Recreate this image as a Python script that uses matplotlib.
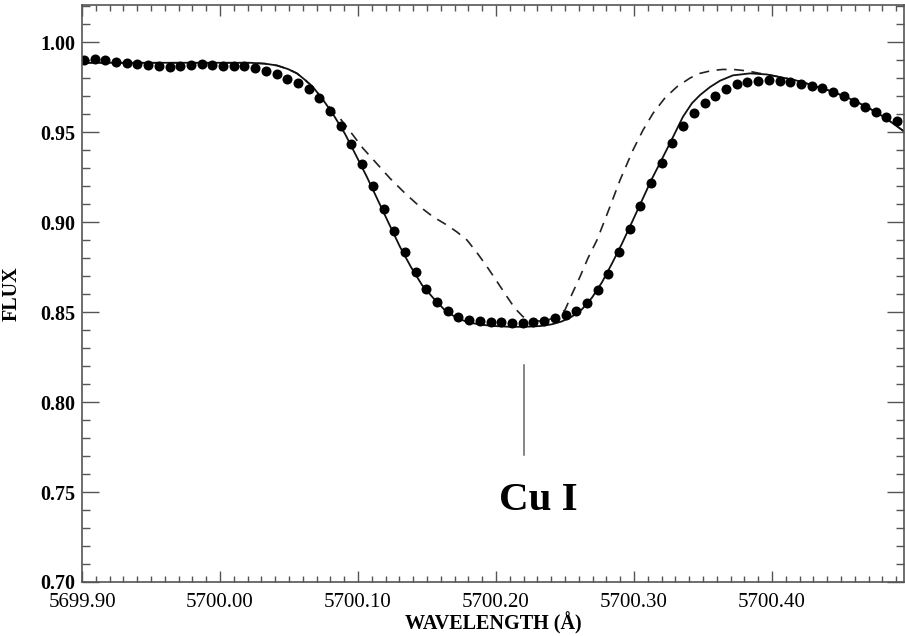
import matplotlib
matplotlib.use("Agg")
import matplotlib.pyplot as plt
from matplotlib.ticker import MultipleLocator, FormatStrFormatter

# Observed spectrum (dots)
obs_wave = [
    5699.9014, 5699.9092, 5699.9169, 5699.9247, 5699.9324, 5699.9402, 5699.9480,
    5699.9557, 5699.9635, 5699.9712, 5699.9790, 5699.9867, 5699.9945, 5700.0022,
    5700.0100, 5700.0177, 5700.0255, 5700.0333, 5700.0410, 5700.0488, 5700.0565,
    5700.0643, 5700.0720, 5700.0798, 5700.0875, 5700.0953, 5700.1030, 5700.1108,
    5700.1186, 5700.1263, 5700.1341, 5700.1418, 5700.1496, 5700.1573, 5700.1651,
    5700.1728, 5700.1806, 5700.1883, 5700.1961, 5700.2039, 5700.2116, 5700.2194,
    5700.2271, 5700.2349, 5700.2426, 5700.2504, 5700.2581, 5700.2659, 5700.2736,
    5700.2814, 5700.2892, 5700.2969, 5700.3047, 5700.3124, 5700.3202, 5700.3279,
    5700.3357, 5700.3434, 5700.3512, 5700.3589, 5700.3667, 5700.3745, 5700.3822,
    5700.3900, 5700.3977, 5700.4055, 5700.4132, 5700.4210, 5700.4287, 5700.4365,
    5700.4442, 5700.4520, 5700.4598, 5700.4675, 5700.4753, 5700.4830, 5700.4908,
]
obs_flux = [
    0.9900, 0.9904, 0.9900, 0.9890, 0.9885, 0.9878, 0.9872,
    0.9867, 0.9860, 0.9867, 0.9872, 0.9878, 0.9872, 0.9867,
    0.9867, 0.9867, 0.9854, 0.9839, 0.9820, 0.9794, 0.9770,
    0.9737, 0.9687, 0.9615, 0.9533, 0.9433, 0.9322, 0.9200,
    0.9074, 0.8950, 0.8832, 0.8722, 0.8630, 0.8556, 0.8504,
    0.8474, 0.8456, 0.8448, 0.8445, 0.8442, 0.8440, 0.8440,
    0.8443, 0.8448, 0.8465, 0.8483, 0.8506, 0.8550, 0.8620,
    0.8710, 0.8832, 0.8963, 0.9090, 0.9215, 0.9330, 0.9440,
    0.9533, 0.9604, 0.9660, 0.9700, 0.9739, 0.9767, 0.9780,
    0.9785, 0.9789, 0.9785, 0.9778, 0.9768, 0.9756, 0.9744,
    0.9724, 0.9700, 0.9668, 0.9637, 0.9613, 0.9585, 0.9563,
]

# Synthetic profile, best fit (solid)
fit_wave = [
    5699.9000, 5700.0217, 5700.0326, 5700.0413, 5700.0493, 5700.0558, 5700.0616,
    5700.0674, 5700.0746, 5700.0819, 5700.0906, 5700.0986, 5700.1065, 5700.1145,
    5700.1225, 5700.1304, 5700.1384, 5700.1464, 5700.1543, 5700.1630, 5700.1710,
    5700.1790, 5700.1884, 5700.1993, 5700.2101, 5700.2210, 5700.2319, 5700.2406,
    5700.2478, 5700.2551, 5700.2623, 5700.2696, 5700.2768, 5700.2841, 5700.2913,
    5700.2986, 5700.3058, 5700.3130, 5700.3203, 5700.3275, 5700.3355, 5700.3420,
    5700.3478, 5700.3551, 5700.3623, 5700.3717, 5700.3841, 5700.3964, 5700.4094,
    5700.4203, 5700.4326, 5700.4442, 5700.4565, 5700.4688, 5700.4819, 5700.4964,
]
fit_flux = [
    0.9885, 0.9885, 0.9880, 0.9870, 0.9850, 0.9826, 0.9790,
    0.9750, 0.9680, 0.9600, 0.9490, 0.9370, 0.9250, 0.9120,
    0.8990, 0.8863, 0.8750, 0.8650, 0.8580, 0.8510, 0.8470,
    0.8445, 0.8430, 0.8422, 0.8418, 0.8418, 0.8422, 0.8432,
    0.8448, 0.8475, 0.8515, 0.8580, 0.8665, 0.8770, 0.8880,
    0.9000, 0.9120, 0.9240, 0.9350, 0.9460, 0.9585, 0.9660,
    0.9705, 0.9750, 0.9785, 0.9815, 0.9826, 0.9820, 0.9800,
    0.9782, 0.9752, 0.9724, 0.9685, 0.9640, 0.9580, 0.9500,
]

# Synthetic profile, alternative model (dashed)
alt_wave = [
    5699.9000, 5700.0217, 5700.0326, 5700.0413, 5700.0493, 5700.0558, 5700.0616,
    5700.0674, 5700.0746, 5700.0819, 5700.0870, 5700.0957, 5700.1036, 5700.1130,
    5700.1232, 5700.1341, 5700.1449, 5700.1543, 5700.1645, 5700.1717, 5700.1790,
    5700.1862, 5700.1935, 5700.2007, 5700.2080, 5700.2138, 5700.2196, 5700.2246,
    5700.2319, 5700.2377, 5700.2435, 5700.2500, 5700.2551, 5700.2609, 5700.2667,
    5700.2732, 5700.2783, 5700.2826, 5700.2899, 5700.2993, 5700.3065, 5700.3138,
    5700.3225, 5700.3312, 5700.3406, 5700.3478, 5700.3565, 5700.3645, 5700.3732,
    5700.3819, 5700.3913, 5700.3964, 5700.4094, 5700.4203, 5700.4326, 5700.4442,
    5700.4565, 5700.4688, 5700.4819, 5700.4964,
]
alt_flux = [
    0.9885, 0.9885, 0.9880, 0.9870, 0.9850, 0.9826, 0.9790,
    0.9750, 0.9680, 0.9615, 0.9576, 0.9490, 0.9410, 0.9330,
    0.9243, 0.9160, 0.9085, 0.9030, 0.8983, 0.8945, 0.8900,
    0.8830, 0.8752, 0.8670, 0.8585, 0.8520, 0.8474, 0.8455,
    0.8450, 0.8455, 0.8475, 0.8511, 0.8600, 0.8696, 0.8800,
    0.8900, 0.9000, 0.9085, 0.9233, 0.9400, 0.9510, 0.9604,
    0.9690, 0.9752, 0.9800, 0.9826, 0.9842, 0.9848, 0.9847,
    0.9840, 0.9826, 0.9820, 0.9800, 0.9782, 0.9752, 0.9724,
    0.9685, 0.9640, 0.9580, 0.9500,
]

line_wave = 5700.2203
line_span = (0.7706, 0.8206)
line_label = "Cu I"

xlim = (5699.90, 5700.4957)
ylim = (0.70, 1.0206)

serif = ["Liberation Serif", "DejaVu Serif"]
axis_col = "#555555"

fig = plt.figure(figsize=(9.05, 6.36), dpi=100)
ax = fig.add_axes([82 / 905, 54 / 636, 822 / 905, 577 / 636])

ax.plot(alt_wave, alt_flux, color="#222222", lw=1.2, dashes=(6, 4.5))
ax.plot(fit_wave, fit_flux, color="#111111", lw=1.3)
ax.plot(obs_wave, obs_flux, "o", color="black", ms=7.2, mew=0)

ax.plot([line_wave, line_wave], line_span, color="#666666", lw=1.1)
ax.text(5700.2304, 0.7400, line_label, ha="center", va="baseline",
        fontsize=29.5, fontweight="bold", family=serif)

ax.set_xlim(*xlim)
ax.set_ylim(*ylim)

ax.xaxis.set_major_locator(MultipleLocator(0.1))
ax.xaxis.set_minor_locator(MultipleLocator(0.01))
ax.yaxis.set_major_locator(MultipleLocator(0.05))
ax.yaxis.set_minor_locator(MultipleLocator(0.01))
ax.xaxis.set_major_formatter(FormatStrFormatter("%.2f"))
ax.yaxis.set_major_formatter(FormatStrFormatter("%.2f"))

ax.tick_params(axis="x", which="both", direction="in", top=True, bottom=True,
               color=axis_col, width=1.0, labelsize=15, pad=8)
ax.tick_params(axis="x", which="major", length=8)
ax.tick_params(axis="x", which="minor", length=4)
ax.tick_params(axis="y", which="both", direction="in", left=True, right=True,
               color=axis_col, width=1.0, labelsize=14.5, pad=5)
ax.tick_params(axis="y", which="major", length=12.5)
ax.tick_params(axis="y", which="minor", length=6)

for lab in ax.get_xticklabels():
    lab.set_family(serif)
for lab in ax.get_yticklabels():
    lab.set_family(serif)
    lab.set_fontweight("bold")

for sp in ax.spines.values():
    sp.set_color(axis_col)
    sp.set_linewidth(1.2)

ax.set_xlabel("WAVELENGTH (Å)", fontsize=14.5, fontweight="bold", family=serif,
              labelpad=0)
ax.set_ylabel("FLUX", fontsize=14.5, fontweight="bold", family=serif, labelpad=13)

fig.savefig("out.png", dpi=100, facecolor="white")
